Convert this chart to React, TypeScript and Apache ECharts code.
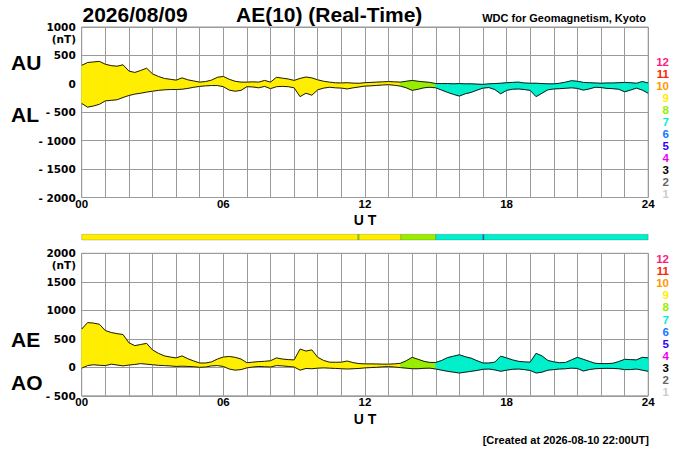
import React, { useEffect, useRef } from "react";
import * as echarts from "echarts";

// ---- data (15-minute samples, 00 UT .. 24 UT) ----
const STEP_HOURS = 0.25;

const AU = [
  325, 375, 385, 395, 345, 320, 310, 335, 225, 200, 235, 275, 175, 130, 95, 80,
  65, 105, 70, 50, 30, 40, 65, 115, 130, 80, 45, 30, 30, 35, 30, 60,
  30, 115, 100, 85, 60, 95, 120, 105, 70, 45, 30, 18, 15, 20, 12, 10,
  20, 25, 30, 35, 40, 35, 30, 45, 60, 45, 35, 25, 5, 5, 5, 0,
  5, 0, 0, -5, -10, 0, 5, 10, 20, 25, 30, 15, 10, 10, 5, 0,
  0, 10, 30, 55, 45, 25, 20, 15, 10, 15, 15, 20, 25, 20, 10, 40,
  15,
];

const AL = [
  -345, -410, -390, -360, -300, -290, -280, -240, -205, -180, -165, -145, -130, -115, -105, -100,
  -100, -95, -80, -60, -45, -35, -30, -30, -50, -110, -130, -115, -50, -55, -70, -45,
  -85, -50, -45, -50, -70, -225, -165, -200, -105, -75, -60, -70, -75, -90, -70, -55,
  -40, -35, -28, -20, -15, -25, -40, -70, -115, -95, -70, -60, -70, -110, -150, -185,
  -215, -175, -150, -110, -75, -65, -100, -175, -115, -95, -90, -100, -115, -225, -165, -105,
  -90, -85, -78, -70, -80, -110, -90, -60, -65, -80, -85, -95, -140, -110, -75, -110,
  -165,
];

const AE = [
  670, 785, 775, 755, 645, 610, 590, 575, 430, 380, 400, 420, 305, 245, 200, 180,
  165, 200, 150, 110, 75, 75, 95, 145, 180, 190, 175, 145, 80, 90, 100, 105,
  115, 165, 145, 135, 130, 320, 285, 305, 175, 120, 90, 88, 90, 110, 82, 65,
  60, 60, 58, 55, 55, 60, 70, 115, 175, 140, 105, 85, 85, 120, 170, 195,
  220, 185, 160, 115, 75, 75, 90, 195, 165, 130, 105, 95, 90, 245, 200, 120,
  95, 80, 85, 130, 175, 140, 105, 70, 65, 65, 70, 100, 140, 135, 130, 175,
  165,
];

const AO = [
  -15, 30, 45, 35, 30, 55, 40, 25, 40, 50, 65, 55, 45, 35, 30, 25,
  15, 20, 15, 10, 0, 5, 25, 30, 15, -30, -50, -40, -10, 5, 15, 10,
  5, 30, 25, 15, 5, -50, -20, -25, -15, -10, -15, -20, -25, -30, -25, -20,
  -10, -5, 0, 8, 12, 5, -5, -15, -25, -25, -18, -15, -30, -50, -70, -85,
  -100, -85, -70, -55, -35, -30, -45, -70, -50, -35, -30, -40, -55, -100, -85, -50,
  -40, -30, -25, -15, -20, -65, -40, -25, -20, -18, -20, -25, -40, -40, -30, -50,
  -70,
];

// number of stations used: [start hour, end hour, count]
const stationSegments = [
  [0, 11.7, 9],
  [11.7, 11.76, 8],
  [11.76, 13.52, 9],
  [13.52, 15.0, 8],
  [15.0, 16.99, 7],
  [16.99, 17.05, 6],
  [17.05, 24, 7],
];

const legendCounts = [12, 11, 10, 9, 8, 7, 6, 5, 4, 3, 2, 1];
const stationColors: Record<number, string> = {
  12: "#ff1a80",
  11: "#ff2200",
  10: "#ff9900",
  9: "#ffee00",
  8: "#99ee00",
  7: "#00f0cc",
  6: "#1177ff",
  5: "#3300ff",
  4: "#ee00ee",
  3: "#000000",
  2: "#666666",
  1: "#cccccc",
};

const hourTicks = ["00", "06", "12", "18", "24"];
const titleDate = "2026/08/09";
const titleIndex = "AE(10) (Real-Time)";
const sourceText = "WDC for Geomagnetism, Kyoto";
const createdText = "[Created at 2026-08-10 22:00UT]";

const hours = AU.map((_, i) => i * STEP_HOURS);

function countAt(h: number): number {
  for (const s of stationSegments) if (h >= s[0] && h < s[1]) return s[2];
  return 7;
}

function bandData(upper: number[], lower: number[]) {
  const out: number[][] = [];
  for (let i = 0; i < hours.length - 1; i++) {
    out.push([
      hours[i],
      hours[i + 1],
      upper[i],
      upper[i + 1],
      lower[i],
      lower[i + 1],
      countAt((hours[i] + hours[i + 1]) / 2),
    ]);
  }
  return out;
}

const GRID_LEFT = 81.7;
const GRID_WIDTH = 566.5;
const GRID_COLOR = "#9a9a9a";
const AXIS_FONT = "DejaVu Sans";
const TEXT_FONT = "Liberation Sans";

function makeXAxis(gridIndex: number) {
  return {
    gridIndex,
    type: "value",
    min: 0,
    max: 24,
    interval: 1,
    axisLine: { show: false },
    axisTick: { show: false },
    splitLine: { show: true, lineStyle: { color: GRID_COLOR, width: 1 } },
    axisLabel: {
      show: true,
      margin: 0,
      color: "#000",
      fontFamily: TEXT_FONT,
      fontWeight: "bold",
      fontSize: 11.5,
      showMinLabel: true,
      showMaxLabel: true,
      formatter: (v: number) => (v % 6 === 0 ? hourTicks[v / 6] : ""),
    },
  };
}

function makeYAxis(gridIndex: number, min: number, max: number) {
  return {
    gridIndex,
    type: "value",
    min,
    max,
    interval: 500,
    axisLine: { show: false },
    axisTick: { show: false },
    splitLine: { show: true, lineStyle: { color: GRID_COLOR, width: 1 } },
    axisLabel: {
      margin: 6,
      color: "#000",
      fontFamily: AXIS_FONT,
      fontWeight: "bold",
      fontSize: 10.5,
      formatter: (v: number) => (v < 0 ? "- " + -v : String(v)),
    },
  };
}

function bandSeries(idx: number, upper: number[], lower: number[]) {
  return {
    type: "custom",
    xAxisIndex: idx,
    yAxisIndex: idx,
    clip: true,
    silent: true,
    encode: { x: [0, 1], y: [2, 3, 4, 5] },
    data: bandData(upper, lower),
    renderItem: (_p: any, api: any) => {
      const p1 = api.coord([api.value(0), api.value(2)]);
      const p2 = api.coord([api.value(1), api.value(3)]);
      const p3 = api.coord([api.value(1), api.value(5)]);
      const p4 = api.coord([api.value(0), api.value(4)]);
      const c = stationColors[api.value(6)] || "#00f0cc";
      return {
        type: "polygon",
        shape: { points: [p1, p2, p3, p4] },
        style: { fill: c, stroke: c, lineWidth: 0.8 },
      };
    },
  };
}

function lineSeries(idx: number, values: number[]) {
  return {
    type: "line",
    xAxisIndex: idx,
    yAxisIndex: idx,
    showSymbol: false,
    symbol: "none",
    silent: true,
    data: hours.map((h, i) => [h, values[i]]),
    lineStyle: { color: "#1a1a1a", width: 1 },
    z: 5,
  };
}

function text(
  str: string,
  x: number,
  y: number,
  size: number,
  align: string,
  color = "#000",
  family = TEXT_FONT
) {
  return {
    type: "text",
    x,
    y,
    silent: true,
    style: {
      text: str,
      fill: color,
      font: `bold ${size}px "${family}"`,
      align,
      verticalAlign: "middle",
    },
  };
}

export default function App() {
  const ref = useRef<HTMLDivElement>(null);

  useEffect(() => {
    document.body.style.margin = "0";
    if (!ref.current) return;
    const chart = echarts.init(ref.current, undefined, { renderer: "svg" });

    const graphics: any[] = [
      text(titleDate, 82.5, 14.5, 21, "left"),
      text(titleIndex, 236, 14.5, 21, "left"),
      text(sourceText, 646, 17.5, 11, "right"),
      text("AU", 11, 62.5, 21, "left"),
      text("AL", 11, 114, 21, "left"),
      text("AE", 11, 339, 21, "left"),
      text("AO", 11, 382.5, 21, "left"),
      text("(nT)", 76, 38.5, 10.5, "right", "#000", AXIS_FONT),
      text("(nT)", 76, 265, 10.5, "right", "#000", AXIS_FONT),
      text("U T", 365, 219.5, 14, "center"),
      text("U T", 365, 418.5, 14, "center"),
      text(createdText, 649, 439.5, 11, "right"),
    ];
    legendCounts.forEach((n, i) => {
      graphics.push(text(String(n), 669, 61.7 + i * 12.03, 11.5, "right", stationColors[n]));
      graphics.push(text(String(n), 669, 259 + i * 12.12, 11.5, "right", stationColors[n]));
    });

    chart.setOption({
      animation: false,
      backgroundColor: "#fff",
      grid: [
        { left: GRID_LEFT, top: 27, width: GRID_WIDTH, height: 170.5, show: true, borderColor: GRID_COLOR, borderWidth: 1 },
        { left: GRID_LEFT, top: 253.3, width: GRID_WIDTH, height: 142.5, show: true, borderColor: GRID_COLOR, borderWidth: 1 },
        { left: GRID_LEFT, top: 234.3, width: GRID_WIDTH, height: 5.7 },
      ],
      xAxis: [
        makeXAxis(0),
        makeXAxis(1),
        { gridIndex: 2, type: "value", min: 0, max: 24, show: false },
      ],
      yAxis: [
        makeYAxis(0, -2000, 1000),
        makeYAxis(1, -500, 2000),
        { gridIndex: 2, type: "value", min: 0, max: 1, show: false },
      ],
      series: [
        bandSeries(0, AU, AL),
        lineSeries(0, AU),
        lineSeries(0, AL),
        bandSeries(1, AE, AO),
        lineSeries(1, AE),
        lineSeries(1, AO),
        {
          type: "custom",
          xAxisIndex: 2,
          yAxisIndex: 2,
          silent: true,
          encode: { x: [0, 1] },
          data: stationSegments,
          renderItem: (_p: any, api: any) => {
            const a = api.coord([api.value(0), 1]);
            const b = api.coord([api.value(1), 0]);
            const c = stationColors[api.value(2)];
            return {
              type: "rect",
              shape: { x: a[0], y: a[1], width: b[0] - a[0], height: b[1] - a[1] },
              style: { fill: c, stroke: "rgba(0,0,0,0.28)", lineWidth: 0.6 },
            };
          },
        },
      ],
      graphic: { elements: graphics },
    });

    return () => chart.dispose();
  }, []);

  return <div ref={ref} style={{ width: 700, height: 450 }} />;
}
